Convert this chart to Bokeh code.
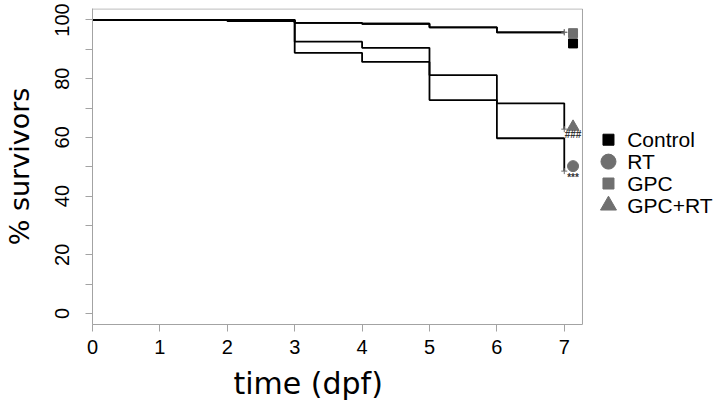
from bokeh.plotting import figure
from bokeh.models import Range1d, FixedTicker, ColumnDataSource, Title
from bokeh.core.properties import value
from bokeh.embed import file_html
from bokeh.resources import INLINE

# ---------------- data ----------------
groups = ["Control", "RT", "GPC", "GPC+RT"]

control_day = [0, 2, 3, 4, 5, 6, 7]
control_pct = [100, 99.6, 99.0, 98.7, 97.5, 95.8, 95.8]

gpc_day = [0, 3, 4, 5, 6, 7]
gpc_pct = [100, 99.0, 98.7, 97.5, 95.8, 95.8]

rt_day = [0, 3, 4, 5, 6, 7]
rt_pct = [100, 88.8, 85.7, 81.2, 59.7, 48.5]

gpcrt_day = [0, 3, 4, 5, 6, 7]
gpcrt_pct = [100, 92.6, 90.5, 72.7, 71.6, 62.8]

# end-point markers (group summary at day 7)
marker_day = [7.13, 7.13, 7.13, 7.13]
marker_pct = [92.0, 50.2, 95.5, 63.6]
marker_sig = ["", "***", "", "###"]

x_ticks = [0, 1, 2, 3, 4, 5, 6, 7]
y_ticks = [0, 20, 40, 60, 80, 100]
y_minor = [10, 30, 50, 70, 90]

# ---------------- styles ----------------
GREY = "#6f6f6f"
BOX = "#a3a3a3"
colors = ["black", GREY, GREY, GREY]
markers = ["square", "circle", "square", "triangle"]
plot_sizes = [9, 11, 9, 12]
legend_sizes = [11, 15, 11, 16]
sig_offsets = [0, 11, 0, 8]

W, H = 720, 408
LEFT, TOP, BOTTOM = 92, 8, 84
FRAME_W = W - LEFT
FRAME_H = H - TOP - BOTTOM

X0, X1 = 0, 9.318
Y0, Y1 = -3.75, 103.9
BOX_RIGHT = 7.27

p = figure(width=W, height=H, output_backend="svg", toolbar_location=None,
           x_range=Range1d(X0, X1), y_range=Range1d(Y0, Y1),
           min_border_left=LEFT, min_border_right=0, min_border_top=TOP,
           min_border_bottom=BOTTOM)
p.outline_line_color = None
p.grid.visible = False
p.background_fill_color = "white"

# plot box (top / right edges)
p.quad(left=[X0], right=[BOX_RIGHT], bottom=[Y0], top=[Y1 - 0.15],
       fill_alpha=0, line_color=BOX, line_width=1)

# survival curves
for d, s in [(control_day, control_pct), (gpc_day, gpc_pct),
             (rt_day, rt_pct), (gpcrt_day, gpcrt_pct)]:
    p.step(x=d, y=s, mode="after", line_color="black", line_width=1.8)
    p.scatter(x=[d[-1]], y=[s[-1]], marker="cross", size=6,
              line_color=GREY, line_width=1)

# end markers
msrc = ColumnDataSource(dict(x=marker_day, y=marker_pct, c=colors, m=markers,
                             s=plot_sizes, t=marker_sig, o=sig_offsets))
p.scatter(x="x", y="y", marker="m", size="s", fill_color="c", line_color="c",
          source=msrc)
p.text(x="x", y="y", text="t", y_offset="o", source=msrc,
       text_font=value("Liberation Sans"), text_font_size="10px",
       text_color="#333333", text_align="center", text_baseline="middle",
       text_font_style="bold")

# legend (drawn manually outside the box)
px_per_y = FRAME_H / (Y1 - Y0)
px_per_x = FRAME_W / (X1 - X0)
leg_top = 59.2
leg_step = 21.9 / px_per_y
leg_y = [leg_top - i * leg_step for i in range(len(groups))]
leg_mx = BOX_RIGHT + 26 / px_per_x
leg_tx = BOX_RIGHT + 44.7 / px_per_x
p.scatter(x=[leg_mx] * 4, y=leg_y, marker=markers, size=legend_sizes,
          fill_color=colors, line_color=colors)
p.text(x=[leg_tx] * 4, y=leg_y, text=groups,
       text_font=value("Liberation Sans"), text_font_size="21px",
       text_color="black", text_baseline="middle", text_align="left")

# axes
xa = p.xaxis[0]
xa.ticker = FixedTicker(ticks=x_ticks, minor_ticks=[])
xa.bounds = (0, BOX_RIGHT)
ya = p.yaxis[0]
ya.ticker = FixedTicker(ticks=y_ticks, minor_ticks=y_minor)
for ax in (xa, ya):
    ax.axis_line_color = BOX
    ax.major_tick_line_color = BOX
    ax.minor_tick_line_color = BOX
    ax.major_tick_out = 7
    ax.major_tick_in = 0
    ax.major_label_text_font = "Liberation Sans"
    ax.major_label_text_font_size = "20px"
    ax.major_label_text_color = "black"
    ax.axis_label_text_font = "DejaVu Sans"
    ax.axis_label_text_font_style = "normal"
    ax.axis_label_text_color = "black"
xa.major_label_standoff = 8
ya.major_label_standoff = 16
xa.minor_tick_out = 0
xa.minor_tick_in = 0
ya.minor_tick_out = 7
ya.minor_tick_in = 0
ya.major_label_orientation = "vertical"
ya.axis_label = "% survivors"
ya.axis_label_text_font_size = "27px"
ya.axis_label_standoff = 18

# x axis title, placed under the box
xt = Title(text="time (dpf)", align="left", offset=141, standoff=14,
           text_font="DejaVu Sans", text_font_size="30px",
           text_font_style="normal", text_color="black")
p.add_layout(xt, "below")

open("out.html", "w").write(file_html(p, INLINE))
